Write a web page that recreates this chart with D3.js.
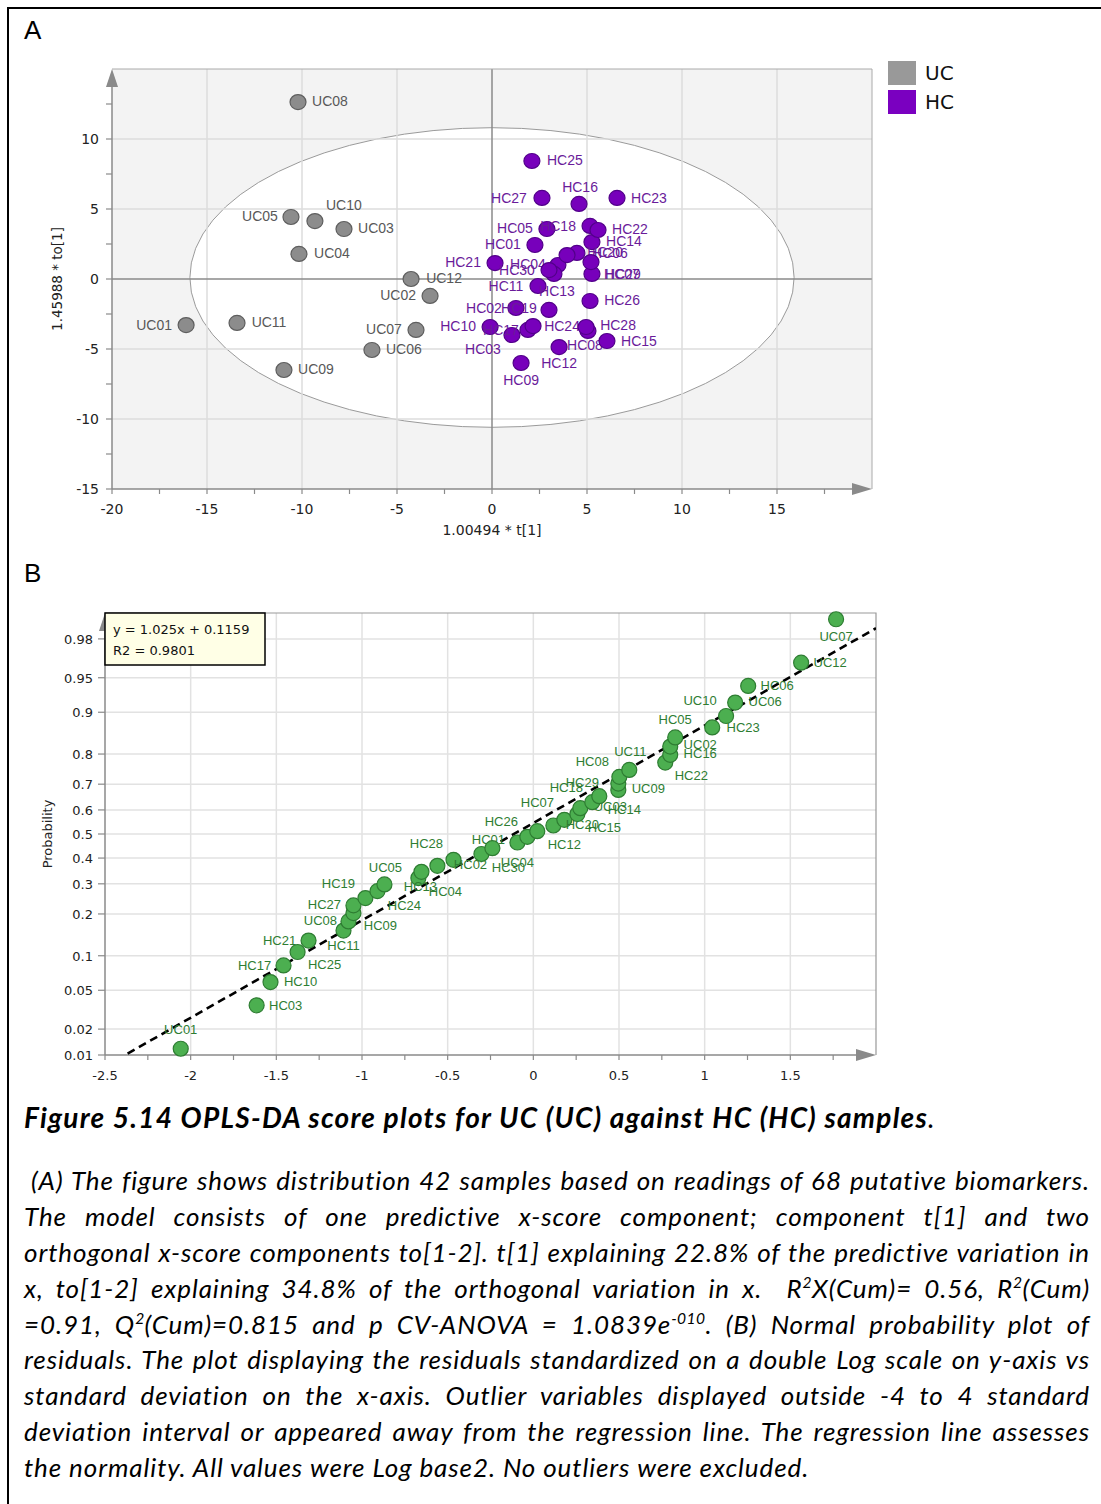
<!DOCTYPE html>
<html>
<head>
<meta charset="utf-8">
<script src="https://cdn.jsdelivr.net/npm/d3@7"></script>
<style>
body { margin: 0; background: #fff; }
#wrap { position: relative; width: 1101px; height: 1504px; overflow: hidden; }
svg { position: absolute; left: 0; top: 0; }
.cap { position: absolute; left: 24px; width: 1066px; font-family: Lato, 'Open Sans', sans-serif; font-style: italic; color: #000; }
#title { top: 1100px; font-weight: bold; font-size: 28px; letter-spacing: 1.25px; line-height: 34px; white-space: nowrap; }
#title span { font-weight: normal; }
#para { top: 1163px; font-size: 26px; letter-spacing: 0.9px; }
.line { white-space: nowrap; text-align: justify; text-align-last: justify; height: 35.9px; line-height: 35.9px; }
.line.first { padding-left: 7px; }
.line.last { text-align-last: left; }
sup { font-size: 60%; line-height: 0; vertical-align: super; letter-spacing: 0.4px; }
</style>
</head>
<body>
<div id="wrap">
  <svg id="chart" width="1101" height="1504"></svg>
  <div class="cap" id="title">Figure 5.14 OPLS-DA score plots for UC (UC) against HC (HC) samples<span>.</span></div>
  <div class="cap" id="para"></div>
</div>
<script>
// ---- panel A: OPLS-DA scores ----
const scoreNames = ['UC01','UC02','UC03','UC04','UC05','UC06','UC07','UC08','UC09','UC10','UC11','UC12',
  'HC01','HC02','HC03','HC04','HC05','HC06','HC07','HC08','HC09','HC10','HC11','HC12','HC13','HC14','HC15',
  'HC16','HC17','HC18','HC19','HC20','HC21','HC22','HC23','HC24','HC25','HC26','HC27','HC28','HC29','HC30'];
const scoreT = [-16.1, -3.26, -7.79, -10.16, -10.58, -6.32, -4.0, -10.21, -10.95, -9.32, -13.42, -4.26,
  2.26, 1.26, 1.05, 3.47, 2.89, 4.47, 5.26, 5.05, 1.53, -0.1, 2.42, 3.53, 3.26, 5.26, 6.05,
  4.58, 1.89, 5.16, 3.0, 3.95, 0.16, 5.58, 6.58, 2.16, 2.1, 5.16, 2.63, 4.95, 5.21, 3.0];
const scoreTo = [-3.29, -1.21, 3.57, 1.79, 4.43, -5.07, -3.64, 12.64, -6.5, 4.14, -3.14, 0.0,
  2.43, -2.07, -4.0, 1.0, 3.57, 1.86, 0.36, -3.71, -6.0, -3.43, -0.5, -4.86, 0.36, 2.64, -4.43,
  5.36, -3.64, 3.79, -2.21, 1.71, 1.14, 3.5, 5.79, -3.36, 8.43, -1.57, 5.79, -3.43, 1.21, 0.64];
const ellipseT = 15.9;   // Hotelling T2 (95%) half-widths
const ellipseTo = 10.7;
const aXTicks = [-20, -15, -10, -5, 0, 5, 10, 15];
const aYTicks = [-15, -10, -5, 0, 5, 10];
const groups = ['UC', 'HC'];

// ---- panel B: normal probability plot of residuals ----
const residNames = ['UC01','HC03','HC10','HC17','HC25','HC21','HC11','HC09','UC08','HC27','HC24','HC19','UC05','HC13',
  'HC04','HC28','HC02','HC01','HC30','UC04','HC26','HC12','HC07','HC20','HC15','UC03','HC14','HC18','UC09','HC29',
  'HC08','UC11','HC22','HC16','UC02','HC05','HC23','UC10','UC06','HC06','UC12','UC07'];
const residX = [-2.058, -1.615, -1.534, -1.458, -1.376, -1.312, -1.108, -1.079, -1.05, -1.05, -0.98, -0.91, -0.869, -0.671,
  -0.653, -0.56, -0.466, -0.303, -0.239, -0.093, -0.035, 0.023, 0.117, 0.181, 0.257, 0.274, 0.344, 0.385, 0.496, 0.496,
  0.502, 0.56, 0.77, 0.799, 0.799, 0.828, 1.044, 1.125, 1.178, 1.254, 1.563, 1.767];
const residProb = [0.0119, 0.0357, 0.0595, 0.0833, 0.1071, 0.1310, 0.1548, 0.1786, 0.2024, 0.2262, 0.2500, 0.2738, 0.2976, 0.3214,
  0.3452, 0.3690, 0.3929, 0.4167, 0.4405, 0.4643, 0.4881, 0.5119, 0.5357, 0.5595, 0.5833, 0.6071, 0.6310, 0.6548, 0.6786, 0.7024,
  0.7262, 0.7500, 0.7738, 0.7976, 0.8214, 0.8452, 0.8690, 0.8929, 0.9167, 0.9405, 0.9643, 0.9881];
const fitSlope = 1.025;
const fitIntercept = 0.1159;
const fitR2 = 0.9801;
const bXTicks = [-2.5, -2, -1.5, -1, -0.5, 0, 0.5, 1, 1.5];
const bYTicks = [0.01, 0.02, 0.05, 0.1, 0.2, 0.3, 0.4, 0.5, 0.6, 0.7, 0.8, 0.9, 0.95, 0.98];

// label placement (pixel nudges from the point centre), default is to the right
const scoreLabelNudge = {
  UC08: [32, -1], UC05: [-31, -1], UC10: [29, -16], UC03: [32, -1], UC04: [33, -1], UC12: [33, -1], UC02: [-32, -1],
  UC01: [-32, 0], UC11: [32, -1], UC07: [-32, -1], UC06: [32, -1], UC09: [32, -1],
  HC25: [33, -1], HC27: [-33, 0], HC16: [1, -17], HC23: [32, 0], HC18: [-32, 0], HC22: [32, -1], HC05: [-32, -1],
  HC14: [32, -1], HC01: [-32, -1], HC21: [-32, -1], HC04: [-30, -1], HC30: [-32, 0], HC20: [38, -3], HC06: [33, 0],
  HC29: [32, 12], HC07: [30, 0], HC13: [3, 17], HC11: [-32, 0], HC02: [-32, 0], HC19: [-30, -2], HC26: [32, -1],
  HC10: [-32, -1], HC17: [-27, 0], HC03: [-29, 14], HC24: [29, 0], HC28: [32, -2], HC08: [-3, 14], HC15: [32, 0],
  HC12: [0, 16], HC09: [0, 17]
};
const residLabelNudge = {
  UC01: [0, -19], HC03: [29, 0], HC10: [30, -1], HC17: [-29, 0], HC25: [27, 13], HC21: [-29, 0], HC11: [0, 15],
  HC09: [32, 4], UC08: [-33, 7], HC27: [-29, -1], HC24: [39, 7], HC19: [-39, -8], UC05: [1, -17], HC13: [2, 8],
  HC04: [24, 20], HC28: [-11, -22], HC02: [17, 5], HC01: [7, -14], HC30: [16, 19], UC04: [0, 20], HC26: [-26, -15],
  HC12: [27, 13], HC07: [-16, -23], HC20: [18, 5], HC15: [27, 13], UC03: [30, -2], HC14: [32, 7], HC18: [-33, -9],
  UC09: [30, -1], HC29: [-36, -1], HC08: [-27, -15], UC11: [1, -18], HC22: [26, 13], HC16: [30, -1], UC02: [30, -2],
  HC05: [0, -18], HC23: [31, 0], UC10: [-26, -16], UC06: [30, -1], HC06: [29, 0], UC12: [29, 0], UC07: [0, 17]
};

const captionLines = [
  '(A) The figure shows distribution 42 samples based on readings of 68 putative biomarkers.',
  'The model consists of one predictive x-score component; component t[1] and two',
  'orthogonal x-score components to[1-2]. t[1] explaining 22.8% of the predictive variation in',
  'x, to[1-2] explaining 34.8% of the orthogonal variation in x.&nbsp; R<sup>2</sup>X(Cum)= 0.56, R<sup>2</sup>(Cum)',
  '=0.91, Q<sup>2</sup>(Cum)=0.815 and p CV-ANOVA = 1.0839e<sup>-010</sup>. (B) Normal probability plot of',
  'residuals. The plot displaying the residuals standardized on a double Log scale on y-axis vs',
  'standard deviation on the x-axis. Outlier variables displayed outside -4 to 4 standard',
  'deviation interval or appeared away from the regression line. The regression line assesses',
  'the normality. All values were Log base2. No outliers were excluded.'
];

const colors = {
  UC: { fill: '#8c8c8c', stroke: '#5e5e5e', text: '#585858', legend: '#999999' },
  HC: { fill: '#7700bb', stroke: '#52008a', text: '#6a1b9a', legend: '#7a00c0' }
};

const svg = d3.select('#chart');
const AXIS = '#8a8a8a';

// inverse of the standard normal CDF (Acklam)
function probit(p) {
  const a = [-3.969683028665376e+01, 2.209460984245205e+02, -2.759285104469687e+02, 1.383577518672690e+02, -3.066479806614716e+01, 2.506628277459239e+00];
  const b = [-5.447609879822406e+01, 1.615858368580409e+02, -1.556989798598866e+02, 6.680131188771972e+01, -1.328068155288572e+01];
  const c = [-7.784894002430293e-03, -3.223964580411365e-01, -2.400758277161838e+00, -2.549671010115819e+00, 4.374664141464968e+00, 2.938163982698783e+00];
  const d = [7.784695709041462e-03, 3.224671290700398e-01, 2.445134137142996e+00, 3.754408661907416e+00];
  const pl = 0.02425;
  if (p < pl) {
    const q = Math.sqrt(-2 * Math.log(p));
    return (((((c[0] * q + c[1]) * q + c[2]) * q + c[3]) * q + c[4]) * q + c[5]) / ((((d[0] * q + d[1]) * q + d[2]) * q + d[3]) * q + 1);
  }
  if (p > 1 - pl) return -probit(1 - p);
  const q = p - 0.5, r = q * q;
  return (((((a[0] * r + a[1]) * r + a[2]) * r + a[3]) * r + a[4]) * r + a[5]) * q / (((((b[0] * r + b[1]) * r + b[2]) * r + b[3]) * r + b[4]) * r + 1);
}

function midpoints(ticks) {
  return ticks.slice(1).map((t, i) => (t + ticks[i]) / 2);
}

function arrowUp(g, x, y) {
  g.append('path').attr('d', `M${x},${y}L${x - 6},${y + 18}L${x + 6},${y + 18}Z`).attr('fill', AXIS);
}
function arrowRight(g, x, y) {
  g.append('path').attr('d', `M${x},${y}L${x - 20},${y - 6}L${x - 20},${y + 6}Z`).attr('fill', AXIS);
}

function drawFrame() {
  svg.append('path').attr('d', 'M8,1504V8H1101').attr('fill', 'none').attr('stroke', '#000').attr('stroke-width', 2);
  svg.append('text').attr('x', 24).attr('y', 39).text('A')
    .style('font', '26px "Liberation Sans", Arial, sans-serif');
  svg.append('text').attr('x', 24).attr('y', 582).text('B')
    .style('font', '26px "Liberation Sans", Arial, sans-serif');
}

function drawScores() {
  const x = d3.scaleLinear().domain([-20, 20]).range([112, 872]);
  const y = d3.scaleLinear().domain([-15, 15]).range([489, 69]);
  const g = svg.append('g');

  g.append('rect').attr('x', x(-20)).attr('y', y(15)).attr('width', x(20) - x(-20)).attr('height', y(-15) - y(15))
    .attr('fill', '#f3f3f3');
  g.append('ellipse').attr('cx', x(0)).attr('cy', y(0) - 1.5)
    .attr('rx', x(ellipseT) - x(0)).attr('ry', y(0) - y(ellipseTo))
    .attr('fill', '#fff').attr('stroke', '#9a9a9a').attr('stroke-width', 1);

  const grid = g.append('g').attr('stroke', '#dcdcdc').attr('stroke-width', 1.5);
  aXTicks.filter(v => v !== 0 && v !== -20).forEach(v => {
    grid.append('line').attr('x1', x(v)).attr('x2', x(v)).attr('y1', y(15)).attr('y2', y(-15));
  });
  aYTicks.filter(v => v !== 0 && v !== -15).forEach(v => {
    grid.append('line').attr('x1', x(-20)).attr('x2', x(20)).attr('y1', y(v)).attr('y2', y(v));
  });
  g.append('line').attr('x1', x(0)).attr('x2', x(0)).attr('y1', y(15)).attr('y2', y(-15)).attr('stroke', AXIS).attr('stroke-width', 1.5);
  g.append('line').attr('x1', x(-20)).attr('x2', x(20)).attr('y1', y(0)).attr('y2', y(0)).attr('stroke', AXIS).attr('stroke-width', 1.5);

  // plot border and axes
  g.append('path').attr('d', `M${x(-20)},${y(15)}H${x(20)}V${y(-15)}`).attr('fill', 'none').attr('stroke', '#aaa');
  g.append('line').attr('x1', x(-20)).attr('x2', x(-20)).attr('y1', y(-15)).attr('y2', y(15) + 10).attr('stroke', AXIS).attr('stroke-width', 1.5);
  g.append('line').attr('x1', x(-20)).attr('x2', x(20) - 10).attr('y1', y(-15)).attr('y2', y(-15)).attr('stroke', AXIS).attr('stroke-width', 1.5);
  arrowUp(g, x(-20), y(15));
  arrowRight(g, x(20), y(-15));

  const ticks = g.append('g').attr('stroke', AXIS).attr('stroke-width', 1.2);
  aXTicks.concat(midpoints(aXTicks), [17.5]).forEach(v => {
    ticks.append('line').attr('x1', x(v)).attr('x2', x(v)).attr('y1', y(-15)).attr('y2', y(-15) + 5);
  });
  aYTicks.concat(midpoints(aYTicks), [12.5]).forEach(v => {
    ticks.append('line').attr('x1', x(-20) - 6).attr('x2', x(-20)).attr('y1', y(v)).attr('y2', y(v));
  });

  const tickFont = '14px "DejaVu Sans", Verdana, sans-serif';
  g.append('g').selectAll('text').data(aXTicks).enter().append('text')
    .attr('x', d => x(d)).attr('y', y(-15) + 25).attr('text-anchor', 'middle')
    .style('font', tickFont).attr('fill', '#222').text(d => String(d));
  g.append('g').selectAll('text').data(aYTicks).enter().append('text')
    .attr('x', x(-20) - 13).attr('y', d => y(d) + 5).attr('text-anchor', 'end')
    .style('font', tickFont).attr('fill', '#222').text(d => String(d));

  g.append('text').attr('x', x(0)).attr('y', 535).attr('text-anchor', 'middle')
    .style('font', '14px "DejaVu Sans", Verdana, sans-serif').attr('fill', '#222').text('1.00494 * t[1]');
  g.append('text').attr('transform', `translate(62,${y(0)}) rotate(-90)`).attr('text-anchor', 'middle')
    .style('font', '13.5px "DejaVu Sans", Verdana, sans-serif').attr('fill', '#222').text('1.45988 * to[1]');

  const pts = scoreNames.map((name, i) => ({ name, group: name.slice(0, 2), t: scoreT[i], to: scoreTo[i] }));
  const nodes = g.append('g').selectAll('g.pt').data(pts).enter().append('g').classed('pt', true)
    .attr('transform', d => `translate(${x(d.t)},${y(d.to)})`);
  nodes.append('ellipse').attr('rx', 8).attr('ry', 7.5)
    .attr('fill', d => colors[d.group].fill).attr('stroke', d => colors[d.group].stroke).attr('stroke-width', 1.2);
  nodes.append('text')
    .attr('x', d => (scoreLabelNudge[d.name] || [32, 0])[0])
    .attr('y', d => (scoreLabelNudge[d.name] || [32, 0])[1] + 5)
    .attr('text-anchor', 'middle')
    .style('font', '14px "Liberation Sans", Arial, sans-serif')
    .attr('fill', d => colors[d.group].text).text(d => d.name);

  // legend
  const leg = svg.append('g').selectAll('g').data(groups).enter().append('g')
    .attr('transform', (d, i) => `translate(888,${61 + i * 29})`);
  leg.append('rect').attr('width', 28).attr('height', 24).attr('fill', d => colors[d].legend);
  leg.append('text').attr('x', 37).attr('y', 19).style('font', '20px "DejaVu Sans", sans-serif').attr('fill', '#111').text(d => d);
}

function drawResiduals() {
  const x = d3.scaleLinear().domain([-2.5, 2.0]).range([105, 876]);
  const z = d3.scaleLinear().domain([probit(0.01), probit(0.99)]).range([1055, 613]);
  const y = p => z(probit(p));
  const g = svg.append('g');
  const top = z.range()[1], bottom = z.range()[0];

  const grid = g.append('g').attr('stroke', '#e2e2e2').attr('stroke-width', 1.5);
  bXTicks.slice(1).forEach(v => {
    grid.append('line').attr('x1', x(v)).attr('x2', x(v)).attr('y1', top).attr('y2', bottom);
  });
  bYTicks.slice(1).forEach(v => {
    grid.append('line').attr('x1', x(-2.5)).attr('x2', x(2)).attr('y1', y(v)).attr('y2', y(v));
  });

  g.append('path').attr('d', `M${x(-2.5)},${top}H${x(2)}V${bottom}`).attr('fill', 'none').attr('stroke', '#999').attr('stroke-width', 1.2);
  g.append('line').attr('x1', x(-2.5)).attr('x2', x(-2.5)).attr('y1', bottom).attr('y2', top + 10).attr('stroke', AXIS).attr('stroke-width', 1.5);
  g.append('line').attr('x1', x(-2.5)).attr('x2', x(2) - 10).attr('y1', bottom).attr('y2', bottom).attr('stroke', AXIS).attr('stroke-width', 1.5);
  arrowUp(g, x(-2.5), top);
  arrowRight(g, x(2), bottom);

  const ticks = g.append('g').attr('stroke', AXIS).attr('stroke-width', 1.2);
  bXTicks.concat(midpoints(bXTicks), [1.75]).forEach(v => {
    ticks.append('line').attr('x1', x(v)).attr('x2', x(v)).attr('y1', bottom).attr('y2', bottom + 5);
  });
  bYTicks.forEach(v => {
    ticks.append('line').attr('x1', x(-2.5) - 7).attr('x2', x(-2.5)).attr('y1', y(v)).attr('y2', y(v));
  });

  const tickFont = '13px "DejaVu Sans", Verdana, sans-serif';
  g.append('g').selectAll('text').data(bXTicks).enter().append('text')
    .attr('x', d => x(d)).attr('y', bottom + 25).attr('text-anchor', 'middle')
    .style('font', tickFont).attr('fill', '#222').text(d => String(d));
  g.append('g').selectAll('text').data(bYTicks).enter().append('text')
    .attr('x', x(-2.5) - 12).attr('y', d => y(d) + 5).attr('text-anchor', 'end')
    .style('font', tickFont).attr('fill', '#222').text(d => String(d));
  g.append('text').attr('transform', `translate(52,${y(0.5)}) rotate(-90)`).attr('text-anchor', 'middle')
    .style('font', '13px "DejaVu Sans", Verdana, sans-serif').attr('fill', '#222').text('Probability');

  // fitted line
  g.append('clipPath').attr('id', 'bclip').append('rect')
    .attr('x', x(-2.5)).attr('y', top).attr('width', x(2) - x(-2.5)).attr('height', bottom - top);
  const line = d3.line().x(d => x(d)).y(d => z(fitSlope * d + fitIntercept));
  g.append('path').datum(x.domain()).attr('d', line).attr('clip-path', 'url(#bclip)')
    .attr('fill', 'none').attr('stroke', '#000').attr('stroke-width', 2.6).attr('stroke-dasharray', '8,5');

  const pts = residNames.map((name, i) => ({ name, rx: residX[i], p: residProb[i] }));
  const nodes = g.append('g').selectAll('g.pt').data(pts).enter().append('g').classed('pt', true)
    .attr('transform', d => `translate(${x(d.rx)},${y(d.p)})`);
  nodes.append('circle').attr('r', 7.5).attr('fill', '#4caf50').attr('stroke', '#2e7d32').attr('stroke-width', 1.2);
  nodes.append('text')
    .attr('x', d => (residLabelNudge[d.name] || [30, 0])[0])
    .attr('y', d => (residLabelNudge[d.name] || [30, 0])[1] + 4.5)
    .attr('text-anchor', 'middle')
    .style('font', '13px "Liberation Sans", Arial, sans-serif')
    .attr('fill', '#2e7d32').text(d => d.name);

  // equation box
  const box = g.append('g').attr('transform', `translate(${x(-2.5)},${top})`);
  box.append('rect').attr('width', 160).attr('height', 52).attr('fill', '#ffffe6').attr('stroke', '#000').attr('stroke-width', 1.5);
  box.append('text').attr('x', 8).attr('y', 21).style('font', '13px "DejaVu Sans", sans-serif').attr('fill', '#111')
    .text(`y = ${fitSlope}x + ${fitIntercept}`);
  box.append('text').attr('x', 8).attr('y', 42).style('font', '13px "DejaVu Sans", sans-serif').attr('fill', '#111')
    .text(`R2 = ${fitR2}`);
}

function drawCaption() {
  const last = captionLines.length - 1;
  d3.select('#para').selectAll('div.line').data(captionLines).enter().append('div')
    .attr('class', (d, i) => 'line' + (i === 0 ? ' first' : '') + (i === last ? ' last' : ''))
    .html(d => d);
}

drawFrame();
drawScores();
drawResiduals();
drawCaption();
</script>
</body>
</html>
